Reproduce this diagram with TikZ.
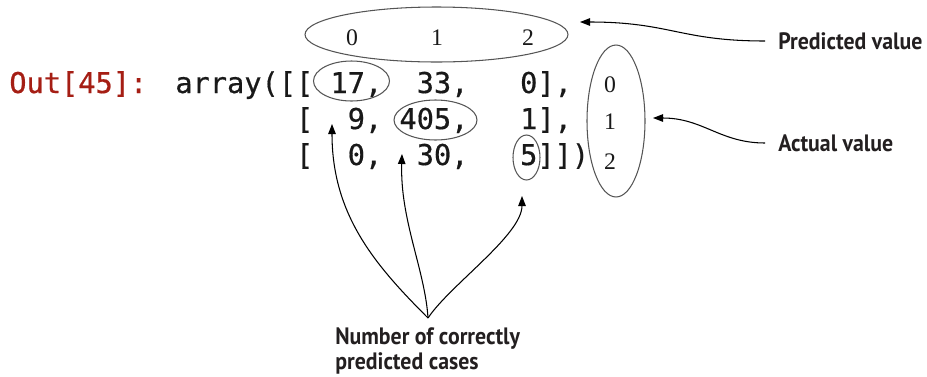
\documentclass[tikz,border=0pt]{standalone}
\usepackage{fontspec}
\setmainfont{Liberation Serif}
\newfontfamily\codefont{DejaVu Sans Mono}[FakeBold=0.6]
\newfontfamily\labelfont{PT Sans Bold}[FakeStretch=0.92]
\usepackage{tikz}
\usetikzlibrary{arrows.meta, positioning, shapes.geometric}
\definecolor{outred}{RGB}{165,30,20}
\definecolor{codeblack}{RGB}{25,25,25}
\definecolor{ringgray}{RGB}{85,85,85}
\definecolor{lblblack}{RGB}{35,31,32}
\tikzset{
  codetxt/.style={anchor=base west, inner sep=0pt, text=codeblack,
    font=\codefont\fontsize{16.3}{19}\selectfont},
  idx/.style={inner sep=0pt, text=codeblack, font=\fontsize{13.5}{15}\selectfont},
  ring/.style={ellipse, draw=ringgray, line width=0.6pt, inner sep=0pt},
  callout/.style={inner sep=0pt, text=lblblack, font=\labelfont\fontsize{13.5}{14.5}\selectfont},
  pointer/.style={line width=0.6pt, -{Triangle[length=2mm, width=1.5mm]}}
}
\begin{document}
\begin{tikzpicture}[x=0.02cm, y=-0.02cm]
\useasboundingbox (0,0) rectangle (927,376);
% Output cell text
\node[codetxt, text=outred] (prompt) at (9,93) {Out[45]:};
\node[codetxt] (row1) at (175,93) {array([[~17,~~33,~~~0],};
\node[codetxt] (row2) at (175,129) {~~~~~~~[~~9,~405,~~~1],};
\node[codetxt] (row3) at (175,165) {~~~~~~~[~~0,~~30,~~~5]])};
% Column and row indices
\foreach \n/\xx in {0/352, 1/437, 2/528} {
  \node[idx] (top\n) at (\xx,38) {\n};
}
\foreach \n/\yy in {0/85, 1/122, 2/162} {
  \node[idx] (side\n) at (610,\yy) {\n};
}
% Rings
\node[ring, minimum width=5.26cm, minimum height=1.10cm] (toprg) at (436.5,34.5) {};
\node[ring, minimum width=1.16cm, minimum height=3.04cm] (siderg) at (616,121) {};
\node[ring, minimum width=1.52cm, minimum height=0.80cm] (rg17) at (351.5,81) {};
\node[ring, minimum width=1.66cm, minimum height=0.80cm] (rg405) at (435.5,120) {};
\node[ring, minimum width=0.54cm, minimum height=0.90cm] (rg5) at (526.5,157.5) {};
% Callouts
\node[callout, anchor=west] (predlbl) at (778,41) {Predicted value};
\node[callout, anchor=west] (actlbl) at (778,143) {Actual value};
\node[callout, anchor=north west, align=left] (diaglbl) at (335,327) {Number of correctly\\predicted cases};
\coordinate (predtip) at (580,22);
\coordinate (acttip) at (653,118);
\coordinate (fork) at (428,318);
\coordinate (tip17) at (332,124);
\coordinate (tip405) at (402,154);
\coordinate (tip5) at (522,196);
% Arrows
\draw[pointer] ([xshift=-0.26cm]predlbl.west) .. controls +(-85,0) and +(90,0) .. (predtip);
\draw[pointer] ([xshift=-0.26cm]actlbl.west) .. controls +(-45,0) and +(50,0) .. (acttip);
\draw[pointer] (fork) .. controls (375,265) and (332,215) .. (tip17);
\draw[pointer] (fork) .. controls (425,270) and (400,220) .. (tip405);
\draw[pointer] (fork) .. controls (450,285) and (522,235) .. (tip5);
\end{tikzpicture}
\end{document}
